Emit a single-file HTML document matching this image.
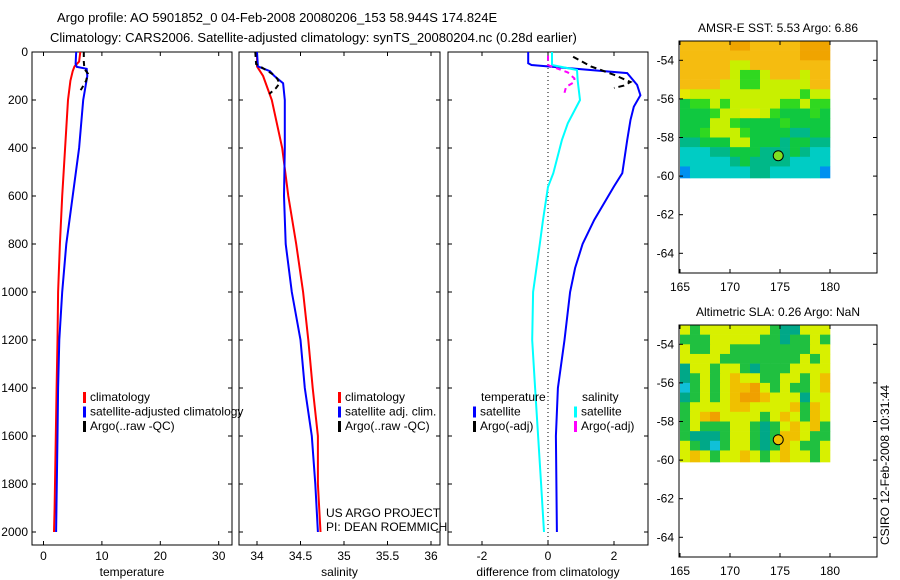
<!DOCTYPE html>
<html><head><meta charset="utf-8"><style>
body{margin:0;background:#fff;width:900px;height:580px;overflow:hidden}
svg{display:block;font-family:"Liberation Sans",sans-serif}
text{font-size:12px;fill:#000}
</style></head><body>
<svg id="fig" width="900" height="580">
<text x="57" y="22" style="font-size:13px">Argo profile: AO 5901852_0 04-Feb-2008 20080206_153 58.944S 174.824E</text>
<text x="50" y="42" style="font-size:13px">Climatology: CARS2006. Satellite-adjusted climatology: synTS_20080204.nc (0.28d earlier)</text>
</svg>
<script>
// ---- data ----
const tempClimDepth=[0,40,60,80,120,200,400,600,800,1000,1200,1400,1600,1900,2000];
const tempClim=[6.3,6.1,5.3,5.0,4.6,4.2,3.7,3.2,2.8,2.5,2.4,2.25,2.1,1.9,1.8];
const tempSatDepth=[0,50,62,70,100,200,400,600,800,1000,1200,1400,1600,2000];
const tempSat=[5.6,5.5,5.7,7.4,7.5,6.8,6.1,5.0,3.9,3.2,2.7,2.5,2.4,2.15];
const tempArgoDepth=[0,40,70,90,120,150,165];
const tempArgo=[6.9,6.9,7.0,7.6,7.3,6.6,6.2];
const salClimDepth=[0,60,100,200,400,600,800,1000,1200,1400,1600,1800,2000];
const salClim=[34.0,34.0,34.07,34.17,34.29,34.36,34.45,34.53,34.59,34.64,34.70,34.70,34.73];
const salSatDepth=[0,60,70,80,100,130,200,400,600,800,1000,1200,1400,1600,1800,2000];
const salSat=[34.0,34.01,34.08,34.15,34.2,34.3,34.32,34.32,34.31,34.33,34.40,34.50,34.55,34.63,34.67,34.70];
const salArgoDepth=[0,50,70,90,110,130,150,175];
const salArgo=[33.98,33.99,34.08,34.17,34.23,34.26,34.22,34.14];
const dTempSatDepth=[0,47,54,88,137,180,228,283,367,505,560,700,800,900,1000,1200,1400,1600,2000];
const dTempSat=[-0.6,-0.6,-0.5,2.4,2.7,2.8,2.6,2.5,2.4,2.25,2.0,1.4,1.05,0.82,0.67,0.5,0.3,0.24,0.27];
const dSalSatDepth=[0,54,75,120,200,297,367,505,562,700,800,1000,1200,1400,1600,1800,2000];
const dSalSat=[0.12,0.12,0.88,0.9,0.97,0.6,0.42,0.16,0.0,-0.15,-0.25,-0.45,-0.48,-0.39,-0.3,-0.21,-0.12];
const dTempArgoDepth=[20,60,95,125,140,150];
const dTempArgo=[0.76,1.3,2.0,2.5,2.3,2.0];
const dSalArgoDepth=[15,54,65,85,110,125,145,170];
const dSalArgo=[0.0,0.0,0.2,0.6,0.8,0.8,0.55,0.5];
const depthTicks=[0,200,400,600,800,1000,1200,1400,1600,1800,2000];
const tempTicks=[0,10,20,30];
const salTicks=[34,34.5,35,35.5,36];
const salTickLabels=["34","34.5","35","35.5","36"];
const diffTicks=[-2,0,2];
const lonTicks=[165,170,175,180];
const latTicks=[-54,-56,-58,-60,-62,-64];
const sstGrid=["oooooOOoooooOOO","ooooooooooooOOO","oooooyyoooooooo","oooooyGGyoooyoo","ooooyyGGyyyyyoo","YyyyyyyyyyyyGyy","gGGyGyyyyyGGyGG","gggGyyYYyGgggGg","gggyyGggggGgggg","ggGyyyGggggTTgg","TTgggyygggTggTT","CCCTTgggTTTgTCC","CCCCCTgTTTTCCCC","BCCCCCCTTCCCCCB"];
const slaGrid=["yGyyyyyyyGTTyyy","GGGyyyyyGGTGGyG","yGGyyGGGGGGGGyy","yyyyGGGGGGGGyGy","TyyGyyGTGGGyyyy","TGyGyoyyGGyyGyo","CGyGyooOyGyGGyo","TGyGyoOOoyyyTyy","GyyyyooyyyyoGoy","GyoOyyyyGyoyGoy","GyGGGyyGTGyoyoG","GTTTGyyGTGooyGG","yGTCGyyGTGoyGGy","yoyGyyoyGyoyyGy"];
const palette={O:"#f0a400",o:"#f5bc10",Y:"#e4e800",y:"#c8f000",G:"#30d820",g:"#10c840",T:"#00b888",C:"#00ccc4",B:"#0090f0"};
const palette2={y:"#d8f000",G:"#20c040",T:"#00a888",C:"#10c0d8",o:"#f0c000",O:"#f0a000"};

const NS="http://www.w3.org/2000/svg";
const svg=document.getElementById('fig');
function mk(tag,attrs,parent){const e=document.createElementNS(NS,tag);for(const k in attrs)e.setAttribute(k,attrs[k]);(parent||svg).appendChild(e);return e;}
const Y0=52,KY=0.24;
const yD=d=>Y0+KY*d;
const TOP=52,BOT=545;
const xT=v=>43.5+5.84*v;
const xS=v=>257+87*(v-34);
const xDf=v=>548+33*v;

function panel(name,x0,x1,xf,ticks,labels,xlabel,showY){
  const g=mk('g',{});
  
  
  const r=mk('rect',{x:x0,y:TOP,width:x1-x0,height:BOT-TOP,fill:'none',stroke:'#000','stroke-width':1},g);
  
  
  depthTicks.forEach(d=>{
    mk('line',{x1:x0,x2:x0+4,y1:yD(d),y2:yD(d),stroke:'#000'},g);
    mk('line',{x1:x1-4,x2:x1,y1:yD(d),y2:yD(d),stroke:'#000'},g);
    if(showY){const t=mk('text',{x:28,y:yD(d)+4,'text-anchor':'end'},g);t.textContent=d;
      
      }
  });
  ticks.forEach((v,i)=>{
    const x=xf(v);
    mk('line',{x1:x,x2:x,y1:BOT,y2:BOT-4,stroke:'#000'},g);
    mk('line',{x1:x,x2:x,y1:TOP,y2:TOP+4,stroke:'#000'},g);
    const t=mk('text',{x:x,y:560,'text-anchor':'middle'},g);t.textContent=labels[i];
    
    
  });
  const xl=mk('text',{x:(x0+x1)/2,y:576,'text-anchor':'middle'},g);xl.textContent=xlabel;
  
  
  return g;
}
function line(name,ds,vs,xf,color,dash,w){
  const pts=ds.map((d,i)=>xf(vs[i]).toFixed(1)+','+yD(d).toFixed(1)).join(' ');
  const p=mk('polyline',{points:pts,fill:'none',stroke:color,'stroke-width':w||2,'stroke-dasharray':dash||'none'});
  
  
}
function legend(name,x,y,items){
  const g=mk('g',{});
  
  
  items.forEach((it,i)=>{
    const yy=y+i*14.5;
    if(it[1])mk('rect',{x:x,y:yy-9,width:3,height:11,fill:it[1]},g);
    const t=mk('text',{x:x+(it[1]?7:0),y:yy},g);t.textContent=it[0];
  });
}
panel('temperature-panel',32,232,xT,tempTicks,tempTicks.map(String),'temperature',true);
panel('salinity-panel',239,440,xS,salTicks,salTickLabels,'salinity',false);
panel('difference-panel',448,648,xDf,diffTicks,diffTicks.map(String),'difference from climatology',false);
const zl=mk('line',{x1:548,x2:548,y1:TOP,y2:BOT,stroke:'#000','stroke-dasharray':'1,3'});



line('temp-climatology-line',tempClimDepth,tempClim,xT,'#f00');
line('temp-satellite-line',tempSatDepth,tempSat,xT,'#00f');
line('temp-argo-line',tempArgoDepth,tempArgo,xT,'#000','5,4');
line('sal-climatology-line',salClimDepth,salClim,xS,'#f00');
line('sal-satellite-line',salSatDepth,salSat,xS,'#00f');
line('sal-argo-line',salArgoDepth,salArgo,xS,'#000','5,4');
line('diff-temp-satellite-line',dTempSatDepth,dTempSat,xDf,'#00f');
line('diff-sal-satellite-line',dSalSatDepth,dSalSat,xDf,'#0ff');
line('diff-temp-argo-line',dTempArgoDepth,dTempArgo,xDf,'#000','6,4');
line('diff-sal-argo-line',dSalArgoDepth,dSalArgo,xDf,'#f0f','5,4');

legend('temperature-legend',83,401,[['climatology','#f00'],['satellite-adjusted climatology','#00f'],['Argo(..raw -QC)','#000']]);
legend('salinity-legend',338,401,[['climatology','#f00'],['satellite adj. clim.','#00f'],['Argo(..raw -QC)','#000']]);
legend('diff-temp-legend',481,401,[['temperature',null]]);
legend('diff-temp-legend-items',473,415.5,[['satellite','#00f'],['Argo(-adj)','#000']]);
legend('diff-sal-legend',582,401,[['salinity',null]]);
legend('diff-sal-legend-items',574,415.5,[['satellite','#0ff'],['Argo(-adj)','#f0f']]);
const us=mk('text',{x:326,y:517});us.textContent='US ARGO PROJECT';

const pi=mk('text',{x:326,y:531});pi.textContent='PI: DEAN ROEMMICH';


function mapPanel(name,top,grid,pal,title,dotFill){
  const L=679,R=877,H=232;
  const xL=v=>680+10*(v-165);
  const yL=v=>top+19.3*(-53-v);
  const g=mk('g',{});
  
  
  const rows=grid.length;
  grid.forEach((row,ri)=>{
    for(let ci=0;ci<row.length;ci++){
      const la0=-53-ri*0.5, la1=-53-(ri+1)*0.5-(ri==rows-1?0.1:0);
      mk('rect',{x:xL(165+ci),y:yL(la0),width:10.3,height:yL(la1)-yL(la0)+0.3,fill:pal[row[ci]]},g);
    }
  });
  mk('rect',{x:L,y:top,width:R-L,height:H,fill:'none',stroke:'#000'},g);
  lonTicks.forEach(v=>{
    mk('line',{x1:xL(v),x2:xL(v),y1:top+H,y2:top+H-4,stroke:'#000'},g);
    mk('line',{x1:xL(v),x2:xL(v),y1:top,y2:top+4,stroke:'#000'},g);
    const t=mk('text',{x:xL(v),y:top+H+18,'text-anchor':'middle'},g);t.textContent=v;
  });
  latTicks.forEach(v=>{
    mk('line',{x1:L,x2:L+4,y1:yL(v),y2:yL(v),stroke:'#000'},g);
    mk('line',{x1:R-4,x2:R,y1:yL(v),y2:yL(v),stroke:'#000'},g);
    const t=mk('text',{x:L-5,y:yL(v)+4,'text-anchor':'end'},g);t.textContent=v;
  });
  const tt=mk('text',{x:(L+R)/2,y:top-9,'text-anchor':'middle'},g);tt.textContent=title;
  const c=mk('circle',{cx:xL(174.824),cy:yL(-58.944),r:5,fill:dotFill,stroke:'#000'},g);
  
  
}
mapPanel('sst-map',41,sstGrid,palette,'AMSR-E SST: 5.53 Argo: 6.86','#80e020');
mapPanel('sla-map',325,slaGrid,palette2,'Altimetric SLA: 0.26 Argo: NaN','#f0c000');
const cs=mk('text',{x:0,y:0,transform:'translate(889,465) rotate(-90)','text-anchor':'middle'});
cs.textContent='CSIRO 12-Feb-2008 10:31:44';


</script>
</body></html>
